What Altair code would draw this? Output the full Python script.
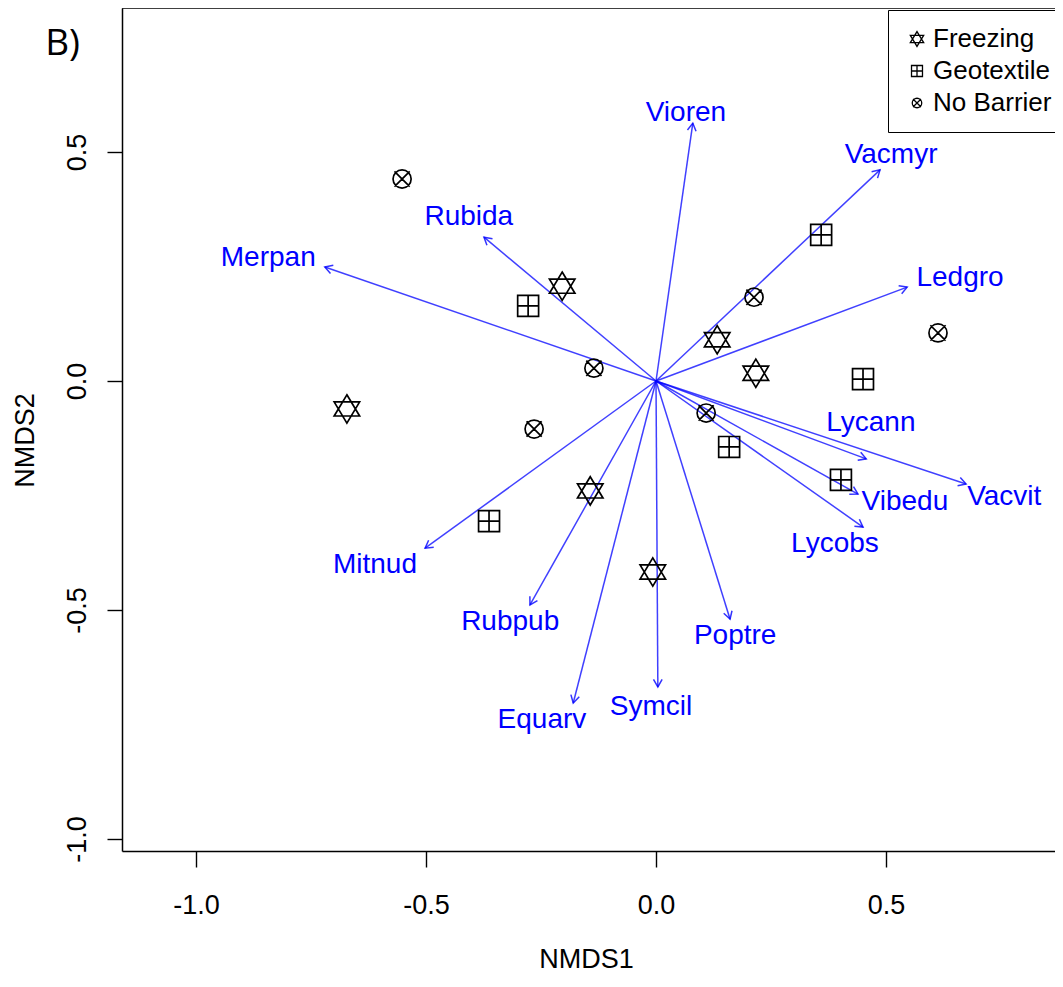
import math
import altair as alt
import pandas as pd

# ---- species vectors (envfit arrows) ----
species = ["Vioren", "Vacmyr", "Ledgro", "Merpan", "Rubida", "Lycann", "Vacvit",
           "Vibedu", "Lycobs", "Poptre", "Symcil", "Equarv", "Rubpub", "Mitnud"]
arrow_x = [0.080, 0.487, 0.546, -0.720, -0.374, 0.457, 0.674,
           0.439, 0.450, 0.161, 0.004, -0.180, -0.274, -0.502]
arrow_y = [0.563, 0.461, 0.205, 0.249, 0.314, -0.170, -0.225,
           -0.247, -0.319, -0.520, -0.668, -0.703, -0.489, -0.365]
label_x = [0.065, 0.511, 0.661, -0.843, -0.407, 0.467, 0.757,
           0.541, 0.389, 0.172, -0.011, -0.248, -0.317, -0.611]
label_y = [0.585, 0.493, 0.225, 0.269, 0.358, -0.092, -0.253,
           -0.264, -0.356, -0.557, -0.712, -0.740, -0.526, -0.402]

# ---- site scores ----
site_treatment = (["No Barrier"] * 6 + ["Geotextile"] * 6 + ["Freezing"] * 6)
site_x = [-0.552, -0.135, -0.265, 0.213, 0.613, 0.109,
          -0.278, -0.363, 0.359, 0.450, 0.159, 0.402,
          -0.204, -0.672, 0.133, 0.217, -0.143, -0.007]
site_y = [0.441, 0.028, -0.105, 0.183, 0.105, -0.070,
          0.164, -0.306, 0.319, 0.004, -0.144, -0.216,
          0.207, -0.061, 0.090, 0.017, -0.240, -0.417]

treatments = ["Freezing", "Geotextile", "No Barrier"]
x_ticks = [-1.0, -0.5, 0.0, 0.5]
y_ticks = [-1.0, -0.5, 0.0, 0.5]

# panel tag, placed in data units just outside the plot (upper-left)
panel_tag = ["B)"]
panel_tag_x = [-1.328]
panel_tag_y = [0.712]

# ---- shapes (relative extents give the different glyph sizes) ----
STAR = "M0,-1L0.9,0.5L-0.9,0.5Z M0,1L0.9,-0.5L-0.9,-0.5Z"
SQPLUS = "M-0.74,-0.74L0.74,-0.74L0.74,0.74L-0.74,0.74Z M-0.74,0L0.74,0 M0,-0.74L0,0.74"
CIRCX = ("M-0.64,0A0.64,0.64,0,1,1,0.64,0A0.64,0.64,0,1,1,-0.64,0Z "
         "M-0.54,-0.54L0.54,0.54 M-0.54,0.54L0.54,-0.54")
CHEVRON = "M-0.5,0.866L0,0L0.5,0.866"

arrows = pd.DataFrame({"sp": species, "ax": arrow_x, "ay": arrow_y,
                       "lx": label_x, "ly": label_y})
arrows["ox"] = 0.0
arrows["oy"] = 0.0
arrows["ang"] = [(math.degrees(math.atan2(a * 460, b * 458)) + 360) % 360
                 for a, b in zip(arrow_x, arrow_y)]

sites = pd.DataFrame({"treatment": site_treatment, "x": site_x, "y": site_y})
tag = pd.DataFrame({"t": panel_tag, "x": panel_tag_x, "y": panel_tag_y})

VIEW_W = 933
VIEW_H = 843
X_DOM = [-1.1609, -1.1609 + VIEW_W / 460]
Y_DOM = [-1.0262, 0.8144]

# top edge of the plot frame, drawn through the scales
frame_top = pd.DataFrame({"x": [X_DOM[0]], "x2": [X_DOM[1]], "y": [Y_DOM[1]]})

xscale = alt.Scale(domain=X_DOM, nice=False, zero=False)
yscale = alt.Scale(domain=Y_DOM, nice=False, zero=False)

label_expr = "replace(format(datum.value, '.1f'), '\u2212', '-')"

x_axis = alt.Axis(values=x_ticks, labelExpr=label_expr, grid=False,
                  domain=True, domainColor="black", domainWidth=1.5,
                  tickSize=16, tickWidth=1.4, tickColor="black",
                  labelFontSize=27, labelFont="Liberation Sans", labelColor="black",
                  labelPadding=25, title="NMDS1", titleFont="Liberation Sans",
                  titleFontSize=27, titleFontWeight="normal", titleColor="black",
                  titleX=464, titleY=116, titleAlign="center",
                  titleBaseline="alphabetic")
y_axis = alt.Axis(values=y_ticks, labelExpr=label_expr, grid=False,
                  domain=True, domainColor="black", domainWidth=1.5,
                  tickSize=15, tickWidth=1.4, tickColor="black",
                  labelFontSize=27, labelFont="Liberation Sans", labelColor="black",
                  labelAngle=270, labelAlign="center", labelBaseline="alphabetic",
                  labelPadding=22, title="NMDS2", titleFont="Liberation Sans",
                  titleFontSize=27, titleFontWeight="normal", titleColor="black",
                  titleAngle=270, titleX=-97, titleY=432, titleAlign="center",
                  titleBaseline="middle")

rules = alt.Chart(arrows).mark_rule(color="#0000ff", strokeWidth=1.5, opacity=0.75).encode(
    x=alt.X("ox:Q", scale=xscale, axis=x_axis),
    y=alt.Y("oy:Q", scale=yscale, axis=y_axis),
    x2="ax:Q",
    y2="ay:Q",
)

frame = alt.Chart(frame_top).mark_rule(color="black", strokeWidth=1.5).encode(
    x=alt.X("x:Q", scale=xscale),
    x2="x2:Q",
    y=alt.Y("y:Q", scale=yscale),
)

heads = alt.Chart(arrows).mark_point(shape=CHEVRON, filled=False, size=300,
                                     color="#0000ff", strokeWidth=1.5, opacity=0.8).encode(
    x=alt.X("ax:Q", scale=xscale),
    y=alt.Y("ay:Q", scale=yscale),
    angle=alt.Angle("ang:Q", scale=None),
)

labels = alt.Chart(arrows).mark_text(color="#0000ff", fontSize=28, font="Liberation Sans",
                                     align="center", baseline="middle").encode(
    x=alt.X("lx:Q", scale=xscale),
    y=alt.Y("ly:Q", scale=yscale),
    text="sp:N",
)

tag_text = alt.Chart(tag).mark_text(color="black", fontSize=37, font="Open Sans",
                                    align="left", baseline="alphabetic",
                                    clip=False).encode(
    x=alt.X("x:Q", scale=xscale),
    y=alt.Y("y:Q", scale=yscale),
    text="t:N",
)

points = alt.Chart(sites).mark_point(filled=False, color="black", strokeWidth=1.7,
                                     size=800, opacity=1).encode(
    x=alt.X("x:Q", scale=xscale),
    y=alt.Y("y:Q", scale=yscale),
    shape=alt.Shape("treatment:N",
                    scale=alt.Scale(domain=treatments, range=[STAR, SQPLUS, CIRCX]),
                    legend=alt.Legend(title=None, orient="none", legendX=766, legendY=2,
                                      strokeColor="black", fillColor="white",
                                      padding=16, labelFontSize=26,
                                      labelFont="Liberation Sans", labelColor="black",
                                      symbolSize=220, symbolStrokeWidth=1.3,
                                      symbolStrokeColor="black",
                                      labelOffset=3, rowPadding=6)),
)

chart = alt.layer(rules, frame, heads, labels, tag_text, points).properties(
    width=VIEW_W,
    height=VIEW_H,
    autosize=alt.AutoSizeParams(type="none"),
    padding={"left": 114, "top": 0, "right": 0, "bottom": 125},
).configure(background="white").configure_view(stroke=None)

chart.save("out.html", embed_options={"renderer": "svg", "actions": False})
